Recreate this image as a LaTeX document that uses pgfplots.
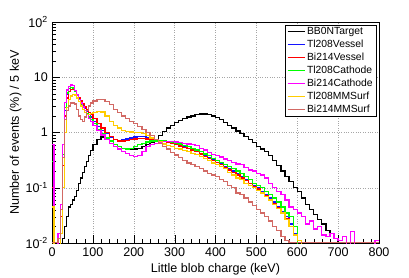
\documentclass[border=0pt]{standalone}
\usepackage{fontspec}
\setmainfont{Liberation Sans}
\usepackage{pgfplots}
\pgfplotsset{compat=1.18}
\definecolor{rblue}{RGB}{20,20,255}
\definecolor{rred}{RGB}{255,0,0}
\definecolor{rgreen}{RGB}{0,255,0}
\definecolor{rmag}{RGB}{255,0,255}
\definecolor{rorange}{RGB}{255,204,0}
\definecolor{rsalmon}{RGB}{210,105,100}
\begin{document}
\begin{tikzpicture}
\begin{axis}[
  scale only axis, width=327bp, height=221bp,
  at={(0,0)}, anchor=south west,
  xmin=0, xmax=800, ymode=log, ymin=0.01, ymax=100,
  xtick={0,100,...,800}, minor x tick num=4,
  ytick={0.01,0.1,1,10,100},
  yticklabels={10\textsuperscript{-2},10\textsuperscript{-1},1,10,10\textsuperscript{2}},
  minor ytick={0.02,0.03,0.04,0.05,0.06,0.07,0.08,0.09,0.2,0.3,0.4,0.5,0.6,0.7,0.8,0.9,2,3,4,5,6,7,8,9,20,30,40,50,60,70,80,90},
  xtick pos=left, ytick pos=left, tick align=inside,
  major tick length=8bp, minor tick length=4bp,
  tick style={black},
  /pgf/number format/assume math mode=true,
  ticklabel style={font=\fontsize{12.6}{14}\selectfont},
  xticklabel style={inner sep=0pt, anchor=north, yshift=-5bp},
  yticklabel style={inner sep=0pt, anchor=east, xshift=-4bp},
  grid=major, major grid style={gray!70, dotted, line width=0.5pt},
  axis line style={black, line width=0.8pt},
  xlabel={Little blob charge (keV)},
  ylabel={Number of events (\%) / 5 keV},
  label style={font=\fontsize{12.6}{14}\selectfont},
  xlabel style={at={(axis description cs:0.5,-0.1176)}, anchor=center},
  ylabel style={at={(axis description cs:-0.1116,0.5)}, anchor=center},
  legend cell align=left,
  legend style={at={(rel axis cs:0.9939,0.9864)}, anchor=north east, draw=black, line width=0.6pt,
    font=\fontsize{10.4}{12}\selectfont, inner xsep=2bp, inner ysep=0bp,
    /tikz/every odd column/.append style={text height=8bp, text depth=2.5bp, inner ysep=2.25bp},
    /tikz/every even column/.append style={column sep=2bp}},
  every axis plot/.append style={line width=1.3pt, const plot, mark=none},
]
\addlegendimage{black, line width=1pt}
\addlegendentry{BB0NTarget}
\addlegendimage{rblue, line width=1pt}
\addlegendentry{Tl208Vessel}
\addlegendimage{rred, line width=1pt}
\addlegendentry{Bi214Vessel}
\addlegendimage{rgreen, line width=1pt}
\addlegendentry{Tl208Cathode}
\addlegendimage{rmag, line width=1pt}
\addlegendentry{Bi214Cathode}
\addlegendimage{rorange, line width=1pt}
\addlegendentry{Tl208MMSurf}
\addlegendimage{rsalmon, line width=1pt}
\addlegendentry{Bi214MMSurf}
\addplot[black, forget plot] coordinates {(0,1e-4)(25,0.012)(30,0.02)(35,0.03)(40,0.045)(45,0.05)(50,0.06)(55,0.07)(60,0.09)(65,0.12)(70,0.15)(75,0.19)(80,0.24)(85,0.3)(90,0.38)(95,0.47)(100,0.6)(110,0.75)(120,0.83)(130,0.8)(140,0.68)(150,0.6)(160,0.55)(170,0.52)(180,0.5)(190,0.5)(200,0.5)(210,0.52)(220,0.55)(230,0.6)(240,0.66)(250,0.75)(260,0.88)(270,1.05)(280,1.2)(290,1.35)(300,1.5)(310,1.65)(320,1.8)(330,1.9)(340,2.0)(350,2.1)(360,2.16)(370,2.15)(380,2.1)(390,2.0)(400,1.85)(410,1.7)(420,1.5)(430,1.35)(440,1.2)(450,1.07)(460,0.95)(470,0.85)(480,0.75)(490,0.65)(500,0.56)(510,0.5)(520,0.45)(530,0.38)(540,0.31)(550,0.25)(560,0.2)(570,0.16)(580,0.13)(590,0.1)(600,0.085)(610,0.065)(620,0.05)(630,0.04)(640,0.033)(650,0.027)(660,0.022)(670,0.017)(680,0.015)(690,0.012)(700,1e-4)(800,1e-4)};
\addplot[rblue, forget plot] coordinates {(0,1e-4)(20,0.04)(25,0.35)(30,2.5)(35,5.0)(40,6.2)(45,6.6)(50,6.4)(55,5.7)(60,4.9)(65,4.2)(70,3.6)(75,3.1)(80,2.7)(85,2.4)(90,2.1)(95,1.9)(100,1.6)(110,1.3)(120,1.1)(130,0.95)(140,0.82)(150,0.75)(160,0.72)(170,0.73)(180,0.76)(190,0.8)(200,0.83)(210,0.84)(220,0.84)(230,0.82)(240,0.78)(250,0.74)(260,0.72)(270,0.7)(280,0.67)(290,0.64)(300,0.61)(310,0.58)(320,0.55)(330,0.52)(340,0.49)(350,0.45)(360,0.42)(370,0.38)(380,0.35)(390,0.32)(400,0.29)(410,0.27)(420,0.24)(430,0.22)(440,0.2)(450,0.18)(460,0.16)(470,0.14)(480,0.12)(490,0.11)(500,0.1)(510,0.085)(520,0.075)(530,0.065)(540,0.055)(550,0.045)(560,0.037)(570,0.03)(580,0.022)(590,0.015)(600,0.011)(610,1e-4)(800,1e-4)};
\addplot[rred, forget plot] coordinates {(0,0.1)(5,1e-4)(20,0.03)(25,0.25)(30,2.0)(35,4.2)(40,5.5)(45,6.0)(50,6.1)(55,5.6)(60,4.9)(65,4.3)(70,3.7)(75,3.3)(80,2.9)(85,2.6)(90,2.3)(95,2.1)(100,1.8)(110,1.45)(120,1.2)(130,1.0)(140,0.85)(150,0.75)(160,0.7)(170,0.7)(180,0.72)(190,0.74)(200,0.76)(210,0.77)(220,0.77)(230,0.76)(240,0.74)(250,0.72)(260,0.7)(270,0.68)(280,0.66)(290,0.63)(300,0.6)(310,0.57)(320,0.54)(330,0.51)(340,0.48)(350,0.45)(360,0.41)(370,0.37)(380,0.34)(390,0.31)(400,0.29)(410,0.26)(420,0.23)(430,0.21)(440,0.19)(450,0.17)(460,0.15)(470,0.135)(480,0.12)(490,0.105)(500,0.095)(510,0.082)(520,0.072)(530,0.062)(540,0.052)(550,0.043)(560,0.035)(570,0.028)(580,0.02)(590,0.014)(600,0.011)(610,1e-4)(800,1e-4)};
\addplot[rgreen, forget plot] coordinates {(0,0.3)(5,1e-4)(20,0.05)(25,0.4)(30,2.8)(35,5.2)(40,6.3)(45,6.6)(50,6.4)(55,5.6)(60,4.7)(65,3.9)(70,3.3)(75,2.9)(80,2.5)(85,2.2)(90,1.9)(95,1.7)(100,1.45)(110,1.15)(120,0.95)(130,0.8)(140,0.7)(150,0.6)(160,0.55)(170,0.52)(180,0.5)(190,0.52)(200,0.55)(210,0.6)(220,0.64)(230,0.67)(240,0.7)(250,0.7)(260,0.7)(270,0.7)(280,0.68)(290,0.66)(300,0.64)(310,0.62)(320,0.58)(330,0.55)(340,0.52)(350,0.48)(360,0.45)(370,0.41)(380,0.38)(390,0.34)(400,0.31)(410,0.29)(420,0.26)(430,0.24)(440,0.22)(450,0.2)(460,0.18)(470,0.16)(480,0.14)(490,0.12)(500,0.11)(510,0.1)(520,0.085)(530,0.075)(540,0.065)(550,0.055)(560,0.045)(570,0.035)(580,0.03)(590,0.02)(600,1e-4)(800,1e-4)};
\addplot[rmag, forget plot] coordinates {(0,0.6)(5,1e-4)(15,0.015)(20,0.05)(25,0.6)(30,3.5)(35,5.9)(40,6.8)(45,7.2)(50,7.0)(55,5.8)(60,4.8)(65,4.0)(70,3.4)(75,2.9)(80,2.5)(85,2.1)(90,1.8)(95,1.6)(100,1.35)(110,1.1)(120,0.9)(130,0.75)(140,0.64)(150,0.55)(160,0.5)(170,0.45)(180,0.42)(190,0.38)(200,0.37)(210,0.38)(220,0.45)(230,0.55)(240,0.6)(250,0.64)(260,0.66)(270,0.68)(280,0.68)(290,0.68)(300,0.67)(310,0.66)(320,0.64)(330,0.62)(340,0.6)(350,0.58)(360,0.52)(370,0.48)(380,0.44)(390,0.4)(400,0.38)(410,0.36)(420,0.33)(430,0.31)(440,0.29)(450,0.27)(460,0.26)(470,0.23)(480,0.21)(490,0.2)(500,0.18)(510,0.17)(520,0.15)(530,0.12)(540,0.1)(550,0.085)(560,0.075)(570,0.06)(580,0.045)(590,0.04)(600,0.035)(610,0.03)(620,0.022)(630,0.025)(640,0.018)(650,0.02)(660,0.014)(670,0.013)(680,0.015)(690,0.012)(700,0.011)(710,0.013)(720,1e-4)(730,0.016)(740,1e-4)(790,0.011)(800,0.011)};
\addplot[rorange, forget plot] coordinates {(0,0.045)(5,1e-4)(20,0.015)(25,0.1)(30,1.0)(35,2.8)(40,4.0)(45,4.6)(50,4.9)(55,4.8)(60,4.2)(65,3.6)(70,3.0)(75,2.6)(80,2.3)(85,2.1)(90,2.1)(95,2.2)(100,2.3)(110,2.4)(120,2.35)(130,2.0)(140,1.6)(150,1.35)(160,1.2)(170,1.1)(180,1.05)(190,1.02)(200,1.0)(210,1.0)(220,0.95)(230,0.88)(240,0.8)(250,0.74)(260,0.68)(270,0.62)(280,0.58)(290,0.55)(300,0.52)(310,0.5)(320,0.47)(330,0.45)(340,0.42)(350,0.4)(360,0.37)(370,0.34)(380,0.31)(390,0.28)(400,0.26)(410,0.24)(420,0.22)(430,0.19)(440,0.17)(450,0.15)(460,0.14)(470,0.12)(480,0.11)(490,0.1)(500,0.09)(510,0.08)(520,0.07)(530,0.06)(540,0.05)(550,0.042)(560,0.035)(570,0.027)(580,0.02)(590,0.014)(600,0.011)(610,1e-4)(800,1e-4)};
\addplot[rsalmon, forget plot] coordinates {(0,0.0101)(15,0.012)(20,0.04)(25,0.35)(30,1.7)(35,2.5)(40,3.0)(45,3.4)(50,3.4)(55,3.3)(60,2.6)(65,2.0)(70,1.7)(75,1.6)(80,1.9)(85,2.5)(90,3.0)(95,3.4)(100,3.7)(110,3.9)(120,3.9)(130,3.6)(140,3.2)(150,2.6)(160,2.3)(170,2.0)(180,1.8)(190,1.6)(200,1.45)(210,1.3)(220,1.15)(230,1.0)(240,0.88)(250,0.75)(260,0.64)(270,0.56)(280,0.5)(290,0.44)(300,0.39)(310,0.35)(320,0.31)(330,0.28)(340,0.26)(350,0.24)(360,0.22)(370,0.2)(380,0.18)(390,0.17)(400,0.16)(410,0.14)(420,0.13)(430,0.11)(440,0.1)(450,0.08)(460,0.075)(470,0.065)(480,0.055)(490,0.048)(500,0.04)(510,0.035)(520,0.03)(530,0.025)(540,0.02)(550,0.017)(560,0.013)(570,0.011)(580,0.0101)(800,0.0101)};
\end{axis}
\pgfresetboundingbox
\path (-52bp,-35bp) rectangle (357bp,243bp);
\end{tikzpicture}
\end{document}
